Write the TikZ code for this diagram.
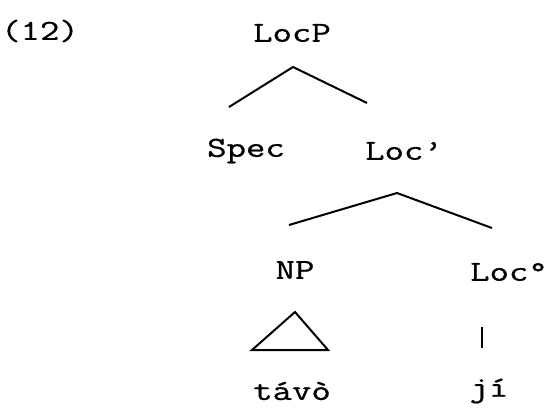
\documentclass[tikz,border=0pt]{standalone}
\usepackage{fontspec}
\usepackage{graphicx}
\newfontfamily\treefont[FakeBold=0.7]{Latin Modern Mono}
\newcommand{\wtxt}[1]{\scalebox{1.3}[1]{#1}}
\begin{document}
\begin{tikzpicture}[x=1pt,y=-1pt,
  lbl/.style={inner sep=0pt, font=\treefont\fontsize{29}{33}\selectfont, anchor=center},
  branch/.style={line width=2pt, line join=miter}]
\useasboundingbox (0,0) rectangle (549,410);
\node[lbl] (ex) at (40,31) {\wtxt{(12)}};
\node[lbl] (locp) at (292,33) {\wtxt{LocP}};
\node[lbl] (spec) at (246,151) {\wtxt{Spec}};
\node[lbl] (locbar) at (404,151) {\wtxt{Loc’}};
\node[lbl] (np) at (295,270) {\wtxt{NP}};
\node[lbl] (loc0) at (509,272) {\wtxt{Loc°}};
\node[lbl] (tavo) at (292,391) {\wtxt{távò}};
\node[lbl] (ji) at (489,391) {\wtxt{jí}};
% first branching
\coordinate (a1) at (293,67);
\coordinate (a1l) at (229,107);
\coordinate (a1r) at (367,103);
\draw[branch] (a1l) -- (a1) -- (a1r);
% second branching
\coordinate (a2) at (397,193);
\coordinate (a2l) at (289,225);
\coordinate (a2r) at (492,228);
\draw[branch] (a2l) -- (a2) -- (a2r);
% triangle
\coordinate (t1) at (295,312);
\coordinate (t2) at (252,350);
\coordinate (t3) at (328,350);
\draw[branch] (t1) -- (t2) -- (t3) -- cycle;
% vertical
\coordinate (v1) at (482,327);
\coordinate (v2) at (482,348);
\draw[line width=1.6pt] (v1) -- (v2);
\end{tikzpicture}
\end{document}
